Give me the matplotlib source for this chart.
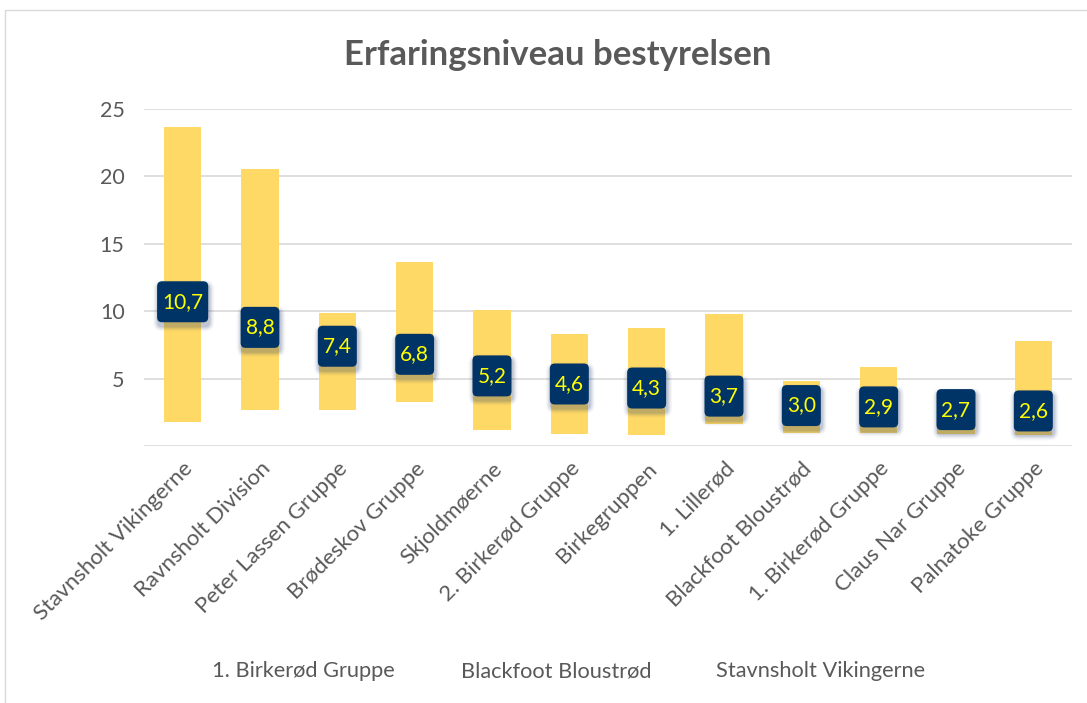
import matplotlib
matplotlib.use("Agg")
import matplotlib.pyplot as plt
import matplotlib.transforms as mtransforms
from matplotlib.patches import Rectangle, FancyBboxPatch
from matplotlib.lines import Line2D

plt.rcParams['font.family'] = ['Lato', 'DejaVu Sans']

# ----- data -----
groups = ["Stavnsholt Vikingerne", "Ravnsholt Division", "Peter Lassen Gruppe",
          "Brødeskov Gruppe", "Skjoldmøerne", "2. Birkerød Gruppe", "Birkegruppen",
          "1. Lillerød", "Blackfoot Bloustrød", "1. Birkerød Gruppe",
          "Claus Nar Gruppe", "Palnatoke Gruppe"]
low_vals = [1.8, 2.7, 2.7, 3.3, 1.2, 0.9, 0.85, 1.6, 1.0, 1.0, 0.9, 0.8]
high_vals = [23.7, 20.55, 9.85, 13.65, 10.1, 8.3, 8.75, 9.8, 4.85, 5.85, 3.5, 7.8]
mean_vals = [10.7, 8.8, 7.4, 6.8, 5.2, 4.6, 4.3, 3.7, 3.0, 2.9, 2.7, 2.6]
legend_labels = ["1. Birkerød Gruppe", "Blackfoot Bloustrød", "Stavnsholt Vikingerne"]
y_ticks = [0, 5, 10, 15, 20, 25]

TXT = "#595959"
GRID = "#D9D9D9"
BAR = "#FFD966"
NAVY = "#003366"

W, H = 1087, 703
fig = plt.figure(figsize=(W / 100, H / 100), dpi=100)
ax = fig.add_axes([144 / W, 1 - 446 / H, (1072 - 144) / W, (446 - 109) / H])

x = list(range(len(groups)))
heights = [h - l for h, l in zip(high_vals, low_vals)]
ax.bar(x, heights, bottom=low_vals, width=0.48, color=BAR, zorder=2)

ax.set_xlim(-0.5, len(groups) - 0.5)
ax.set_ylim(0, 25)

# value labels: navy rounded boxes with soft shadow
renderer = fig.canvas.get_renderer()
px = 1 / 100  # one pixel in inches
for xi, m in zip(x, mean_vals):
    t = ax.text(xi, m, f"{m:.1f}".replace(".", ","), ha="center", va="center",
                fontsize=15, color="#FFFF00", zorder=6)
    tw = t.get_window_extent(renderer).width * px
    bw, bh = tw + 10 * px, 41 * px
    tr = fig.dpi_scale_trans + mtransforms.ScaledTranslation(xi, m, ax.transData)
    # shadow layers
    for k, a in enumerate([0.10, 0.08, 0.06, 0.04, 0.03]):
        g = (k + 1) * px
        ax.add_patch(FancyBboxPatch((-bw / 2 - g + 1 * px, -bh / 2 - g - 4 * px),
                                    bw + 2 * g, bh + 2 * g,
                                    boxstyle=f"round,pad=0,rounding_size={(5 + k) * px}",
                                    fc="#1F3864", ec="none", alpha=a,
                                    transform=tr, zorder=4))
    ax.add_patch(FancyBboxPatch((-bw / 2, -bh / 2), bw, bh,
                                boxstyle=f"round,pad=0,rounding_size={5 * px}",
                                fc=NAVY, ec="none", transform=tr, zorder=5))

ax.set_yticks(y_ticks)
ax.set_yticklabels(["" if v == 0 else str(v) for v in y_ticks])
ax.yaxis.grid(True, color=GRID, lw=1.2, zorder=0)
ax.set_axisbelow(True)
for s in ax.spines.values():
    s.set_visible(False)
ax.tick_params(axis="y", length=0, labelsize=15.5, labelcolor=TXT, pad=14)
ax.set_xticks(x)
ax.set_xticklabels(groups, rotation=45, ha="right", rotation_mode="anchor")
ax.tick_params(axis="x", length=0, labelsize=16, labelcolor=TXT, pad=9)

fig.text(558 / W, 1 - 55 / H, "Erfaringsniveau bestyrelsen", ha="center",
         va="center", fontsize=25, fontweight="bold", color=TXT)

handles = [Line2D([], [], linestyle="none") for _ in legend_labels]
leg = fig.legend(handles, legend_labels, ncol=3, loc="center",
                 bbox_to_anchor=(569 / W, 1 - 671 / H), frameon=False,
                 fontsize=15.7, handlelength=0, handletextpad=0, columnspacing=3.0)
for tx in leg.get_texts():
    tx.set_color(TXT)

fig.add_artist(Rectangle((5 / W, -0.1), 1.2, (H - 10) / H + 0.1,
                         transform=fig.transFigure, fill=False,
                         ec=GRID, lw=1))

fig.savefig("out.png", dpi=100)
